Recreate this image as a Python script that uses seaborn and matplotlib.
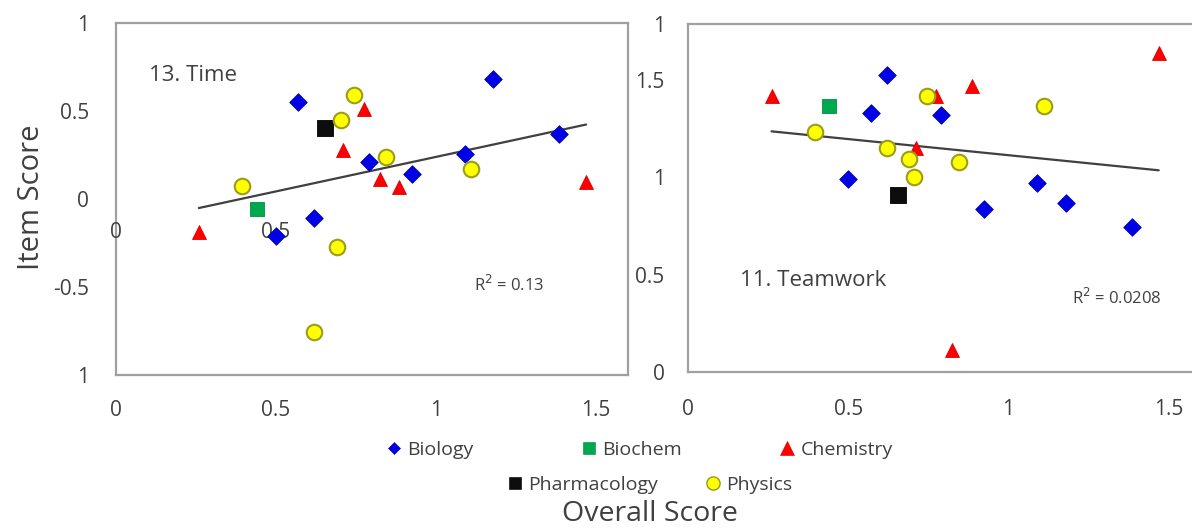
import matplotlib
matplotlib.use("Agg")
import matplotlib.pyplot as plt
import matplotlib.lines as mlines
import seaborn as sns
import pandas as pd

# ---------------- data ----------------
departments = ["Biology", "Biochem", "Chemistry", "Pharmacology", "Physics"]

biology_overall = [0.50, 0.57, 0.62, 0.79, 0.925, 1.09, 1.18, 1.385]
biology_time = [-0.21, 0.55, -0.11, 0.21, 0.14, 0.255, 0.68, 0.37]
biology_teamwork = [0.99, 1.33, 1.53, 1.32, 0.84, 0.97, 0.87, 0.745]

biochem_overall = [0.44]
biochem_time = [-0.06]
biochem_teamwork = [1.37]

chemistry_overall = [0.26, 0.71, 0.775, 0.825, 0.885, 1.47]
chemistry_time = [-0.19, 0.28, 0.51, 0.11, 0.065, 0.095]
chemistry_teamwork = [1.42, 1.15, 1.42, 0.11, 1.47, 1.64]

pharmacology_overall = [0.655]
pharmacology_time = [0.40]
pharmacology_teamwork = [0.91]

physics_overall = [0.395, 0.62, 0.69, 0.705, 0.745, 0.845, 1.11]
physics_time = [0.075, -0.755, -0.275, 0.445, 0.59, 0.24, 0.17]
physics_teamwork = [1.235, 1.15, 1.095, 1.00, 1.42, 1.08, 1.37]

x_ticks = [0, 0.5, 1, 1.5]
x_ticklabels = ["0", "0.5", "1", "1.5"]
time_yticks = [-1, -0.5, 0, 0.5, 1]
time_yticklabels = ["1", "-0.5", "0", "0.5", "1"]
team_yticks = [0, 0.5, 1, 1.5, 1.79]
team_yticklabels = ["0", "0.5", "1", "1.5", "1"]

time_title = "13. Time"
team_title = "11. Teamwork"
time_r2 = "R$^2$ = 0.13"
team_r2 = "R$^2$ = 0.0208"

# ---------------- frame ----------------
overall = [biology_overall, biochem_overall, chemistry_overall, pharmacology_overall, physics_overall]
time_vals = [biology_time, biochem_time, chemistry_time, pharmacology_time, physics_time]
team_vals = [biology_teamwork, biochem_teamwork, chemistry_teamwork, pharmacology_teamwork, physics_teamwork]
rows = []
for d, xs, ts, ws in zip(departments, overall, time_vals, team_vals):
    for x, t, w in zip(xs, ts, ws):
        rows.append({"Dept": d, "Overall": x, "Time": t, "Teamwork": w})
df = pd.DataFrame(rows)

styles = {
    "Biology": dict(marker="D", s=80, color="#0000E6", edgecolor="#0000B0", linewidth=0.6),
    "Biochem": dict(marker="s", s=115, color="#00A84F", edgecolor="#009040", linewidth=0.6),
    "Chemistry": dict(marker="^", s=100, color="#FF0000", edgecolor="#D80000", linewidth=0.6),
    "Pharmacology": dict(marker="s", s=125, color="#0D0D0D", edgecolor="#000000", linewidth=0.6),
    "Physics": dict(marker="o", s=125, color="#FFFF00", edgecolor="#9C9C1C", linewidth=1.5),
}
legend_sizes = {"Biology": 6.6, "Biochem": 9, "Chemistry": 10, "Pharmacology": 9, "Physics": 9.5}

sns.set_style("white")
plt.rcParams["font.family"] = ["Open Sans", "DejaVu Sans"]
TXT = "#404040"
SPINE = "#a0a0a0"

W, H = 1192, 530
fig = plt.figure(figsize=(W / 100, H / 100), dpi=100)
axL = fig.add_axes([115.7 / W, (H - 375) / H, 512 / W, 352.3 / H])
axR = fig.add_axes([688.3 / W, (H - 371.7) / H, 512 / W, 347.7 / H])

for ax, col in ((axL, "Time"), (axR, "Teamwork")):
    for d in departments:
        sub = df[df["Dept"] == d]
        sns.scatterplot(data=sub, x="Overall", y=col, ax=ax, legend=False, zorder=3, **styles[d])
    sns.regplot(data=df, x="Overall", y=col, ax=ax, scatter=False, ci=None, truncate=True,
                color="#404040", line_kws=dict(lw=1.6, zorder=2))
    ax.set_xlabel("")
    ax.set_ylabel("")
    ax.set_xlim(0, 1.6)
    ax.set_xticks(x_ticks)
    ax.set_xticklabels(x_ticklabels)
    for sp in ax.spines.values():
        sp.set_color(SPINE)
        sp.set_linewidth(1.6)
    ax.tick_params(axis="both", direction="out", length=4, width=1.2, color=SPINE,
                   labelcolor=TXT, labelsize=15)
    ax.grid(False)

axL.set_ylim(-1, 1)
axL.set_yticks(time_yticks)
axL.set_yticklabels(time_yticklabels)
axL.tick_params(axis="y", pad=15)
axL.tick_params(axis="x", pad=14)

axR.set_ylim(0, 1.79)
axR.set_yticks(team_yticks)
axR.set_yticklabels(team_yticklabels)
axR.tick_params(axis="y", pad=13)
axR.tick_params(axis="x", pad=16)

# stray axis labels inside the left panel
axL.text(0, -0.19, x_ticklabels[0], ha="center", va="center", fontsize=15, color=TXT, zorder=2.8)
axL.text(0.5, -0.19, x_ticklabels[1], ha="center", va="center", fontsize=15, color=TXT, zorder=2.8)

axL.text(0.105, 0.70, time_title, ha="left", va="center", fontsize=16, color=TXT)
axR.text(0.161, 0.468, team_title, ha="left", va="center", fontsize=16, color=TXT)
axL.text(1.12, -0.49, time_r2, ha="left", va="center", fontsize=12, color=TXT)
axR.text(1.2, 0.379, team_r2, ha="left", va="center", fontsize=12, color=TXT)

fig.text(32 / W, 1 - 197 / H, "Item Score", rotation=90, ha="center", va="center",
         fontsize=21, color=TXT)
fig.text(650 / W, 1 - 521 / H, "Overall Score", ha="center", va="baseline",
         fontsize=20.5, color=TXT)

# legend, one entry per position
legend_pos = {"Biology": (394, 450), "Biochem": (589, 450), "Chemistry": (787, 450),
              "Pharmacology": (515, 485), "Physics": (713, 485)}
LFS = 14
fs_px = LFS * 100 / 72
for d in departments:
    st = styles[d]
    h = mlines.Line2D([], [], linestyle="none", marker=st["marker"], markersize=legend_sizes[d],
                      markerfacecolor=st["color"], markeredgecolor=st["edgecolor"],
                      markeredgewidth=st["linewidth"] * 0.7)
    mx, my = legend_pos[d]
    fig.legend([h], [d], loc="center left",
               bbox_to_anchor=((mx - 0.4 * fs_px) / W, 1 - my / H),
               frameon=False, fontsize=LFS, handlelength=0.8, handletextpad=0.3,
               borderpad=0, borderaxespad=0, labelcolor=TXT)

fig.savefig("out.png", dpi=100, facecolor="white")
